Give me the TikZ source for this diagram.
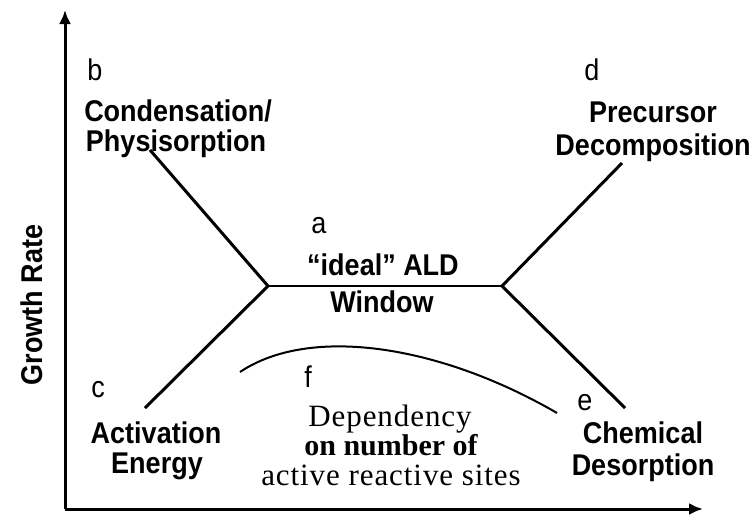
\documentclass[tikz,border=0pt]{standalone}
\usepackage{fontspec}
\setmainfont{Liberation Sans}[FakeStretch=0.9]
\newfontfamily\depfont{Liberation Serif}[LetterSpace=3]
\newfontfamily\depboldfont{Liberation Serif Bold}
\usetikzlibrary{arrows.meta}
\begin{document}
\begin{tikzpicture}[x=1pt,y=-1pt,
  axis/.style={line width=3pt,-{Latex[length=14pt,width=12pt]}},
  branch/.style={line width=3pt},
  flat/.style={line width=2pt},
  lbl/.style={font=\fontsize{30}{32}\selectfont\bfseries,anchor=base,inner sep=0pt},
  tag/.style={font=\fontsize{30}{32}\selectfont,anchor=base,inner sep=0pt},
  dep/.style={font=\fontsize{31}{32}\selectfont\depfont,anchor=base,inner sep=0pt}]
  \useasboundingbox (0,0) rectangle (753,515);

  % axes
  \coordinate (o) at (65,509);
  \coordinate (ytip) at (65,10);
  \coordinate (xtip) at (703,509);
  \draw[axis] (o) -- (ytip);
  \draw[axis] (o) -- (xtip);
  \node[lbl,rotate=90] (ylab) at (42,305) {Growth Rate};

  % growth-rate curve: ALD window with four branches
  \coordinate (wl) at (268,286);
  \coordinate (wr) at (502,286);
  \coordinate (ul) at (150,150);
  \coordinate (ll) at (145,408);
  \coordinate (ur) at (622,163);
  \coordinate (lr) at (625,408);
  \draw[flat] (wl) -- (wr);
  \draw[branch] (ul) -- (wl) -- (ll);
  \draw[branch] (ur) -- (wr) -- (lr);

  % reactive-site dependency curve
  \coordinate (fs) at (240,372);
  \coordinate (fe) at (557,413);
  \draw[flat] (fs) .. controls (310,325) and (440,345) .. (fe);

  % labels
  \node[tag] (b) at (95,80) {b};
  \node[lbl] (cond) at (178,121) {Condensation/};
  \node[lbl] (phys) at (176,151) {Physisorption};

  \node[tag] (d) at (592,80) {d};
  \node[lbl] (prec) at (653,122) {Precursor};
  \node[lbl] (decomp) at (653,155) {Decomposition};

  \node[tag] (a) at (319,233) {a};
  \node[lbl] (ideal) at (383,275) {“ideal” ALD};
  \node[lbl] (window) at (382,312) {Window};

  \node[tag] (c) at (98,397) {c};
  \node[lbl] (activ) at (156,443) {Activation};
  \node[lbl] (energy) at (157,473) {Energy};

  \node[tag] (f) at (308,387) {f};
  \node[dep] (dep1) at (390,426) {Dependency};
  \node[dep,font=\fontsize{30}{32}\selectfont\depboldfont] (dep2) at (391,455) {on number of};
  \node[dep] (dep3) at (391,485) {active reactive sites};

  \node[tag] (e) at (585,410) {e};
  \node[lbl] (chem) at (643,443) {Chemical};
  \node[lbl] (desorp) at (643,475) {Desorption};
\end{tikzpicture}
\end{document}
